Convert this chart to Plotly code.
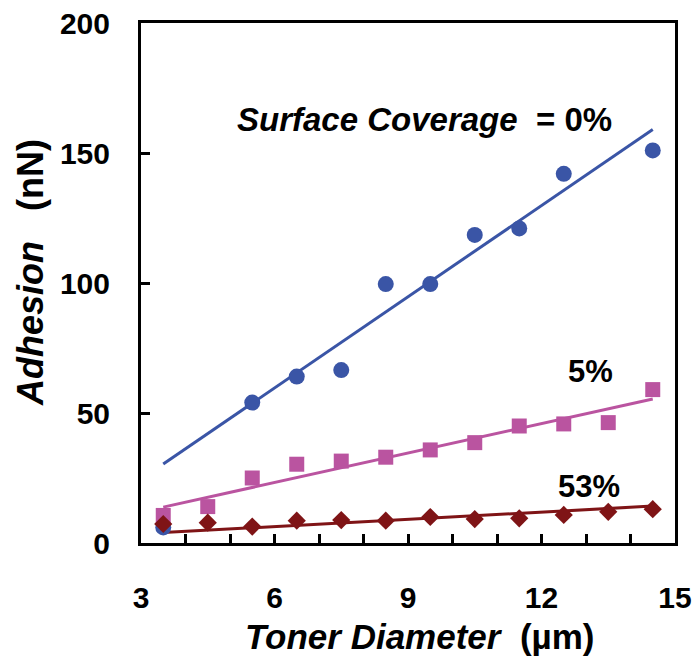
import plotly.graph_objects as go

# Data
x_blue = [3.5, 5.5, 6.5, 7.5, 8.5, 9.5, 10.5, 11.5, 12.5, 14.5]
y_blue = [6, 54, 64, 66.5, 99.6, 99.6, 118.5, 121, 142, 151]

x_pink = [3.5, 4.5, 5.5, 6.5, 7.5, 8.5, 9.5, 10.5, 11.5, 12.5, 13.5, 14.5]
y_pink = [10.6, 14, 25, 30.3, 31.5, 33, 35.8, 38.6, 45, 45.8, 46.3, 59]

x_red = [3.5, 4.5, 5.5, 6.5, 7.5, 8.5, 9.5, 10.5, 11.5, 12.5, 13.5, 14.5]
y_red = [7.3, 7.8, 6.3, 8.6, 8.8, 8.6, 10, 9.2, 9.5, 10.8, 12, 13]

fit_x = [3.5, 14.5]
fit_blue = [30.4, 159]
fit_pink = [13.8, 55.4]
fit_red = [4.0, 14.2]

x_ticks = list(range(3, 16))
x_ticktext = [str(v) if v % 3 == 0 else "" for v in x_ticks]
y_ticks = [0, 50, 100, 150, 200]

BLUE = "#3A55A6"
PINK = "#BA54A0"
RED = "#7F1416"
FONT = "Liberation Sans, Arial, sans-serif"

fig = go.Figure()
fig.add_trace(go.Scatter(x=fit_x, y=fit_blue, mode="lines", line=dict(color=BLUE, width=3), showlegend=False))
fig.add_trace(go.Scatter(x=fit_x, y=fit_pink, mode="lines", line=dict(color=PINK, width=3), showlegend=False))
fig.add_trace(go.Scatter(x=fit_x, y=fit_red, mode="lines", line=dict(color=RED, width=3), showlegend=False))
fig.add_trace(go.Scatter(x=x_blue, y=y_blue, mode="markers",
                         marker=dict(symbol="circle", size=16, color=BLUE), showlegend=False))
fig.add_trace(go.Scatter(x=x_pink, y=y_pink, mode="markers",
                         marker=dict(symbol="square", size=15, color=PINK), showlegend=False))
fig.add_trace(go.Scatter(x=x_red, y=y_red, mode="markers",
                         marker=dict(symbol="diamond", size=14, color=RED), showlegend=False))

fig.update_layout(
    width=697, height=657,
    margin=dict(l=141, r=22, t=23, b=114),
    paper_bgcolor="white", plot_bgcolor="white",
    font=dict(family=FONT, color="black"),
    xaxis=dict(range=[3, 15], tickvals=x_ticks, ticktext=x_ticktext,
               ticks="inside", ticklen=9, tickwidth=2.5, tickcolor="black",
               showline=True, linewidth=3, linecolor="black", mirror=True,
               showgrid=False, zeroline=False, automargin=False,
               tickfont=dict(size=30, family=FONT, color="black", weight="bold"),
               ticklabelstandoff=26),
    yaxis=dict(range=[0, 200], tickvals=y_ticks,
               ticks="inside", ticklen=9, tickwidth=2.5, tickcolor="black",
               showline=True, linewidth=3, linecolor="black", mirror=True,
               showgrid=False, zeroline=False, automargin=False,
               tickfont=dict(size=30, family=FONT, color="black", weight="bold"),
               ticklabelstandoff=22),
)

ann_font = dict(size=33, family=FONT, color="black")
fig.add_annotation(x=5.11, y=163, xref="x", yref="y", xanchor="left", yanchor="middle",
                   text="<b><i>Surface Coverage</i>&nbsp;&nbsp;= 0%</b>", showarrow=False, font=ann_font)
fig.add_annotation(x=13.09, y=65.8, xref="x", yref="y", xanchor="center", yanchor="middle",
                   text="<b>5%</b>", showarrow=False, font=dict(size=31, family=FONT, color="black"))
fig.add_annotation(x=13.07, y=21.9, xref="x", yref="y", xanchor="center", yanchor="middle",
                   text="<b>53%</b>", showarrow=False, font=dict(size=31, family=FONT, color="black"))
fig.add_annotation(x=0.522, y=-0.179, xref="paper", yref="paper", xanchor="center", yanchor="middle",
                   text="<b><i>Toner Diameter</i>&nbsp;&nbsp;(µm)</b>", showarrow=False,
                   font=dict(size=35, family=FONT, color="black"))
fig.add_annotation(x=-0.208, y=0.521, xref="paper", yref="paper", xanchor="center", yanchor="middle",
                   text="<b><i>Adhesion</i>&nbsp;&nbsp;&nbsp;(nN)</b>", showarrow=False, textangle=-90,
                   font=dict(size=36, family=FONT, color="black"))

fig.write_html("out.html")
